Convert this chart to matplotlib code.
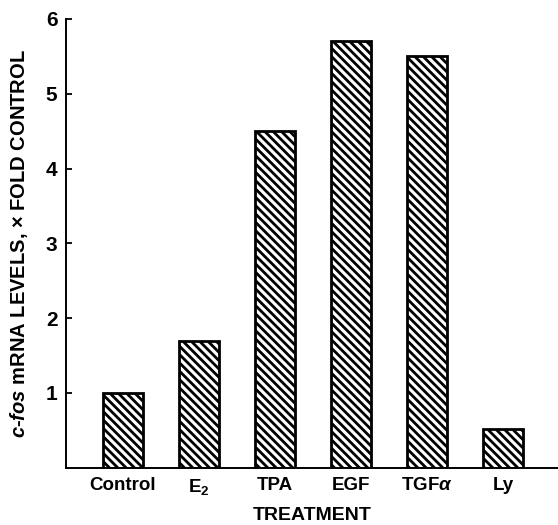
import matplotlib
matplotlib.use("Agg")
import matplotlib.pyplot as plt

# data
treatments = ["Control", "E$_2$", "TPA", "EGF", "TGF$\\mathit{\\alpha}$", "Ly"]
fold_levels = [1.0, 1.7, 4.5, 5.7, 5.5, 0.52]
y_ticks = [1, 2, 3, 4, 5, 6]

plt.rcParams['font.family'] = 'Liberation Sans'
plt.rcParams['font.weight'] = 'bold'
plt.rcParams['mathtext.fontset'] = 'custom'
plt.rcParams['mathtext.rm'] = 'Liberation Sans:bold'
plt.rcParams['mathtext.it'] = 'Liberation Sans:italic:bold'
plt.rcParams['mathtext.bf'] = 'Liberation Sans:bold'
plt.rcParams['hatch.linewidth'] = 2.0
plt.rcParams['hatch.color'] = 'black'

fig = plt.figure(figsize=(5.58, 5.25), dpi=100)
ax = fig.add_axes([0.118, 0.109, 0.882, 0.855])

x = list(range(len(treatments)))
ax.bar(x, fold_levels, width=0.53, facecolor='white', edgecolor='black',
       linewidth=2.0, hatch='\\\\\\\\')

ax.set_xlim(-0.75, 5.72)
ax.set_ylim(0, 6)
ax.set_yticks(y_ticks)
ax.set_yticklabels([str(t) for t in y_ticks], fontsize=15, fontweight='bold')
ax.set_xticks(x)
ax.set_xticklabels(treatments, fontsize=13.5, fontweight='bold')
ax.tick_params(axis='y', direction='in', length=4, width=1.3, pad=6)
ax.tick_params(axis='x', length=0, pad=7)

for s in ['top', 'right']:
    ax.spines[s].set_visible(False)
for s in ['left', 'bottom']:
    ax.spines[s].set_linewidth(1.4)

ax.set_xlabel("TREATMENT", fontsize=14, fontweight='bold', labelpad=7)
ax.set_ylabel("$\\mathit{c}$-$\\mathit{fos}$ mRNA LEVELS, \u00d7 FOLD CONTROL",
              fontsize=14.5, fontweight='bold', labelpad=11)

fig.savefig("out.png", dpi=100)
